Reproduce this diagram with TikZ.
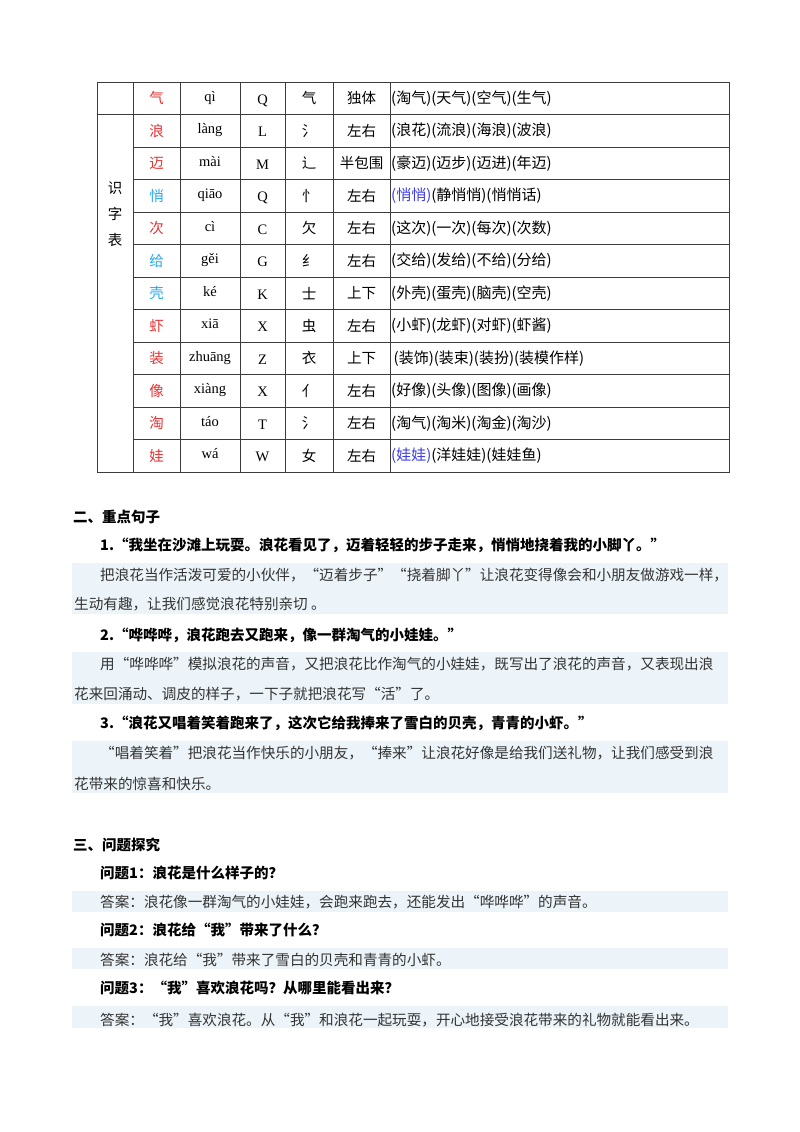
\documentclass[tikz,border=0pt]{standalone}
\usepackage{fontspec}
\setmainfont{Noto Sans CJK SC}
\newfontfamily\lat{Liberation Serif}
\definecolor{cred}{RGB}{228,52,52}
\definecolor{clb}{RGB}{40,170,235}
\definecolor{cbl}{RGB}{60,60,235}
\definecolor{band}{RGB}{236,244,249}
\definecolor{grid}{RGB}{60,60,60}
\tikzset{
 cell/.style={font=\fontsize{14.5}{14.5}\selectfont,inner sep=0pt,anchor=center},
 wd/.style={font=\fontsize{15}{15}\selectfont,inner sep=0pt,anchor=west},
 head/.style={font=\fontsize{14.5}{14.5}\selectfont\bfseries,inner sep=0pt,anchor=west},
 para/.style={font=\fontsize{14.6}{14.6}\selectfont,text=black!80,inner sep=0pt,anchor=west},
 bandbox/.style={fill=band,draw=none},
 gl/.style={draw=grid,line width=0.8pt}
}
\begin{document}
\begin{tikzpicture}[x=1pt,y=-1pt]
\useasboundingbox[fill=white] (0,0) rectangle (800,1132);
% table grid
\draw[gl] (97,82) rectangle (729,472);
\foreach \x in {133,180,240,285,333,390} \draw[gl] (\x,82) -- (\x,472);
\draw[gl] (97,114.5) -- (729,114.5);
\foreach \k in {2,...,11} \draw[gl] (133,82+32.5*\k) -- (729,82+32.5*\k);
% rows
\foreach [count=\i] \c/\col/\p/\l/\r/\s/\w in {
 气/cred/qì/Q/气/独体/{(淘气)(天气)(空气)(生气)},
 浪/cred/làng/L/氵/左右/{(浪花)(流浪)(海浪)(波浪)},
 迈/cred/mài/M/辶/半包围/{(豪迈)(迈步)(迈进)(年迈)},
 悄/clb/qiāo/Q/忄/左右/{\textcolor{cbl}{(悄悄)}(静悄悄)(悄悄话)},
 次/cred/cì/C/欠/左右/{(这次)(一次)(每次)(次数)},
 给/clb/gěi/G/纟/左右/{(交给)(发给)(不给)(分给)},
 壳/clb/ké/K/士/上下/{(外壳)(蛋壳)(脑壳)(空壳)},
 虾/cred/xiā/X/虫/左右/{(小虾)(龙虾)(对虾)(虾酱)},
 装/cred/zhuāng/Z/衣/上下/{\,(装饰)(装束)(装扮)(装模作样)},
 像/cred/xiàng/X/亻/左右/{(好像)(头像)(图像)(画像)},
 淘/cred/táo/T/氵/左右/{(淘气)(淘米)(淘金)(淘沙)},
 娃/cred/wá/W/女/左右/{\textcolor{cbl}{(娃娃)}(洋娃娃)(娃娃鱼)}
}{
 \pgfmathsetmacro\yc{82+32.5*(\i-0.5)}
 \node[cell,text=\col] (c\i) at (156.5,\yc) {\c};
 \node[cell,anchor=base] (p\i) at (210,\yc+3) {\lat\p};
 \node[cell,anchor=base] (l\i) at (262.5,\yc+6) {\lat\l};
 \node[cell] (r\i) at (309,\yc) {\r};
 \node[cell] (s\i) at (361.5,\yc) {\s};
 \node[wd] (w\i) at (391,\yc) {\w};
}
\node[cell,align=center,font=\fontsize{14.5}{26}\selectfont] (sz) at (115,214) {识\\字\\表};
% section 2
\node[head] (h2) at (73,517) {二、重点句子};
\node[head] (q1) at (100,545) {1.“我坐在沙滩上玩耍。浪花看见了，迈着轻轻的步子走来，悄悄地挠着我的小脚丫。”};
\fill[bandbox] (72,563) rectangle (728,614);
\node[para] (a1a) at (100,575) {把浪花当作活泼可爱的小伙伴，“迈着步子”“挠着脚丫”让浪花变得像会和小朋友做游戏一样，};
\node[para] (a1b) at (74,604) {生动有趣，让我们感觉浪花特别亲切 。};
\node[head] (q2) at (100,635) {2.“哗哗哗，浪花跑去又跑来，像一群淘气的小娃娃。”};
\fill[bandbox] (72,652) rectangle (728,704);
\node[para] (a2a) at (100,664) {用“哗哗哗”模拟浪花的声音，又把浪花比作淘气的小娃娃，既写出了浪花的声音，又表现出浪};
\node[para] (a2b) at (74,694) {花来回涌动、调皮的样子，一下子就把浪花写“活”了。};
\node[head] (q3) at (100,723) {3.“浪花又唱着笑着跑来了，这次它给我捧来了雪白的贝壳，青青的小虾。”};
\fill[bandbox] (72,741) rectangle (728,793);
\node[para] (a3a) at (100,753) {“唱着笑着”把浪花当作快乐的小朋友，“捧来”让浪花好像是给我们送礼物，让我们感受到浪};
\node[para] (a3b) at (74,784) {花带来的惊喜和快乐。};
% section 3
\node[head] (h3) at (73,845) {三、问题探究};
\node[head] (wq1) at (100,873) {问题1：浪花是什么样子的？};
\fill[bandbox] (72,891) rectangle (728,912);
\node[para] (wa1) at (100,902) {答案：浪花像一群淘气的小娃娃，会跑来跑去，还能发出“哗哗哗”的声音。};
\node[head] (wq2) at (100,930) {问题2：浪花给“我”带来了什么？};
\fill[bandbox] (72,948) rectangle (728,969);
\node[para] (wa2) at (100,960) {答案：浪花给“我”带来了雪白的贝壳和青青的小虾。};
\node[head] (wq3) at (100,988) {问题3：“我”喜欢浪花吗？从哪里能看出来？};
\fill[bandbox] (72,1006) rectangle (728,1028);
\node[para] (wa3) at (100,1020) {答案：“我”喜欢浪花。从“我”和浪花一起玩耍，开心地接受浪花带来的礼物就能看出来。};
\end{tikzpicture}
\end{document}
